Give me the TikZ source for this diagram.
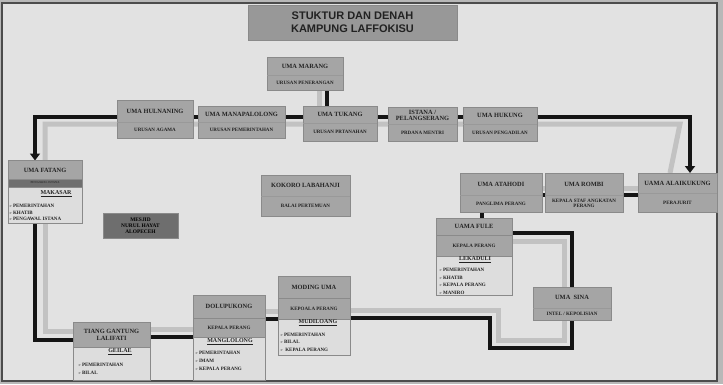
\documentclass[tikz,border=0pt]{standalone}
\usepackage{fontspec}
\setmainfont{Liberation Serif}
\newfontfamily\titlefont{Liberation Sans}
\newfontfamily\symfont{DejaVu Sans}
\usetikzlibrary{arrows.meta,backgrounds}
\definecolor{board}{HTML}{E2E2E2}
\definecolor{outer}{HTML}{B8B8B8}
\definecolor{boxg}{HTML}{A5A5A5}
\definecolor{boxd}{HTML}{6E6E6E}
\definecolor{paper}{HTML}{DDDDDD}
\definecolor{road}{HTML}{151515}
\definecolor{roadg}{HTML}{C2C2C2}
\definecolor{ink}{HTML}{222222}
\definecolor{edge}{HTML}{8A8A8A}
\tikzset{
  road/.style={draw=road,line width=4.5pt},
  roadlight/.style={draw=roadg,line width=5pt},
  panel/.style={draw=edge,line width=0.4pt,fill=boxg,inner sep=0pt,outer sep=0pt},
  panelw/.style={draw=edge,line width=0.4pt,fill=paper,inner sep=0pt,outer sep=0pt},
  divider/.style={draw=black!40,line width=0.4pt},
  toplbl/.style={font=\bfseries\fontsize{6.4}{6.8}\selectfont,text=ink,align=center,inner sep=0pt},
  sublbl/.style={font=\bfseries\fontsize{5}{5.4}\selectfont,text=ink,align=center,inner sep=0pt},
  headlbl/.style={font=\bfseries\fontsize{6}{6.4}\selectfont,text=ink,inner sep=0pt},
  listlbl/.style={font=\bfseries\fontsize{5}{5.4}\selectfont,text=ink,anchor=west,inner sep=0pt},
}
\newcommand\blt{{\symfont\fontsize{3.6}{4}\selectfont ➢}\,}
\newcommand\ubox[8]{%
  \node[panel,minimum width={(#4-#2)*1pt},minimum height={(#6-#3)*1pt}] (#1) at ({(#2+#4)/2},{(#3+#6)/2}) {};
  \draw[divider] (#2,#5) -- (#4,#5);
  \node[toplbl] (#1-t) at ({(#2+#4)/2},{(#3+#5)/2}) {#7};
  \node[sublbl] (#1-s) at ({(#2+#4)/2},{(#5+#6)/2}) {#8};
}
\begin{document}
\begin{tikzpicture}[x=1pt,y=-1pt]
\useasboundingbox (0,0) rectangle (723,384);
% ---------- title ----------
\node[panel,fill=boxg!92!black,minimum width=209pt,minimum height=35pt,
      font=\titlefont\bfseries\fontsize{11}{13}\selectfont,text=ink,align=center] (title) at (352.5,22.5)
      {STUKTUR DAN DENAH\\KAMPUNG LAFFOKISU};
% ---------- top row ----------
\ubox{marang}{267}{57}{343}{75}{90}{UMA MARANG}{URUSAN PENERANGAN}
\ubox{hulnaning}{117}{100}{193}{122}{138}{UMA HULNANING}{URUSAN AGAMA}
\ubox{manapalolong}{198}{106}{285}{122}{138}{UMA MANAPALOLONG}{URUSAN PEMERINTAHAN}
\ubox{tukang}{303}{106}{377}{123}{141}{UMA TUKANG}{URUSAN PRTANAHAN}
\ubox{istana}{388}{107}{457}{124}{141}{ISTANA /\\PELANGSERANG}{PRDANA MENTRI}
\ubox{hukung}{463}{107}{537}{124}{141}{UMA HUKUNG}{URUSAN PENGADILAN}
% ---------- middle ----------
\ubox{kokoro}{261}{175}{350}{196}{216}{KOKORO LABAHANJI}{BALAI PERTEMUAN}
\ubox{atahodi}{460}{173}{542}{195}{212}{UMA ATAHODI}{PANGLIMA PERANG}
\ubox{rombi}{545}{173}{623}{195}{212}{UMA ROMBI}{KEPALA STAF ANGKATAN\\PERANG}
\ubox{alaik}{638}{173}{717}{193}{212}{UAMA ALAIKUKUNG}{PERAJURIT}
\ubox{sina}{533}{287}{611}{308}{320}{UMA \ SINA}{INTEL / KEPOLISIAN}
\node[panel,fill=boxd,minimum width=75pt,minimum height=25pt,
      font=\bfseries\fontsize{5.4}{5.8}\selectfont,text=black,align=center] (mesjid) at (140.5,225.5)
      {MESJID\\NURUL HAYAT\\ALOPECEH};
% ---------- UMA FATANG ----------
\node[panelw,minimum width=74pt,minimum height=63pt] (fatang) at (45,192) {};
\path[panel] (8,160.5) rectangle (82,179);
\path[fill=boxd,draw=edge,line width=0.4pt] (8,179) rectangle (82,187);
\node[toplbl] (fatang-t) at (45,170) {UMA FATANG};
\node[font=\bfseries\fontsize{3}{3.4}\selectfont,text=black!80,inner sep=0pt] (fatang-s) at (45,183) {PENGAWAL ISTANA};
\node[headlbl] (fatang-h) at (56,193.5) {\underline{MAKASAR}};
\node[listlbl] (fatang-1) at (9,206) {\blt PEMERINTAHAN};
\node[listlbl] (fatang-2) at (9,212.5) {\blt KHATIB};
\node[listlbl] (fatang-3) at (9,219) {\blt PENGAWAL ISTANA};
% ---------- TIANG GANTUNG ----------
\node[panelw,minimum width=77pt,minimum height=58pt] (tiang) at (111.5,351) {};
\path[panel] (73,322) rectangle (150,347);
\node[toplbl] (tiang-t) at (111.5,334.5) {TIANG GANTUNG\\LALIFATI};
\node[headlbl] (tiang-h) at (120,352) {\underline{GEILAE}};
\node[listlbl] (tiang-1) at (78,364.5) {\blt PEMERINTAHAN};
\node[listlbl] (tiang-2) at (78,372.5) {\blt BILAL};
% ---------- DOLUPUKONG ----------
\node[panelw,minimum width=72pt,minimum height=85pt] (dolu) at (229,337.5) {};
\path[panel] (193,295) rectangle (265,318);
\path[panel] (193,318) rectangle (265,337);
\node[toplbl] (dolu-t) at (229,306.5) {DOLUPUKONG};
\node[sublbl] (dolu-s) at (229,327.5) {KEPALA PERANG};
\node[headlbl] (dolu-h) at (230,341.5) {\underline{MANGLOLONG}};
\node[listlbl] (dolu-1) at (195,352.5) {\blt PEMERINTAHAN};
\node[listlbl] (dolu-2) at (195,360.5) {\blt IMAM};
\node[listlbl] (dolu-3) at (195,368.5) {\blt KEPALA PERANG};
% ---------- MODING UMA ----------
\node[panelw,minimum width=72pt,minimum height=79pt] (moding) at (314,315.5) {};
\path[panel] (278,276) rectangle (350,298);
\path[panel] (278,298) rectangle (350,319);
\node[toplbl] (moding-t) at (314,287) {MODING UMA};
\node[sublbl] (moding-s) at (314,308.5) {KEPOALA PERANG};
\node[headlbl] (moding-h) at (318,323) {\underline{MUDILOANG}};
\node[listlbl] (moding-1) at (280,334.5) {\blt PEMERINTAHAN};
\node[listlbl] (moding-2) at (280,342) {\blt BILAL};
\node[listlbl] (moding-3) at (280,349.5) {\blt \ KEPALA PERANG};
% ---------- UAMA FULE ----------
\node[panelw,minimum width=76pt,minimum height=77pt] (fule) at (474,256.5) {};
\path[panel] (436,218) rectangle (512,235);
\path[panel] (436,235) rectangle (512,256);
\node[toplbl] (fule-t) at (474,226.5) {UAMA FULE};
\node[sublbl] (fule-s) at (474,245.5) {KEPALA PERANG};
\node[headlbl] (fule-h) at (475,260) {\underline{LEKADULI}};
\node[listlbl] (fule-1) at (439,270) {\blt PEMERINTAHAN};
\node[listlbl] (fule-2) at (439,277.5) {\blt KHATIB};
\node[listlbl] (fule-3) at (439,285) {\blt KEPALA PERANG};
\node[listlbl] (fule-4) at (439,292.5) {\blt MANIRO};
% ---------- board and roads (behind) ----------
\begin{scope}[on background layer]
  \fill[outer] (0,0) rectangle (723,384);
  \path[fill=board,draw=black!70,line width=1.2pt] (2,3) rectangle (717,381);
  % light road edges
  \draw[roadlight] ([xshift=0pt]fatang.north) -- (45,124) -- (680,124) -- ([xshift=-7.5pt]alaik.north);
  \draw[roadlight] ([xshift=14pt]marang.south) -- ([xshift=-21pt]tukang.north);
  \draw[roadlight] (fatang.south) -- (45,331) -- (tiang.west |- 0,331);
  \draw[roadlight] (tiang.east |- 0,329) -- (dolu.west |- 0,329);
  \draw[roadlight] (dolu.east |- 0,311) -- (moding.west |- 0,311);
  \draw[roadlight] (moding.east |- 0,310) -- (498,310) -- (498,340) -- (564,340) -- (564,241) -- (fule.east |- 0,241);
  \draw[roadlight] (atahodi.east |- 0,188) -- (rombi.west |- 0,188);
  \draw[roadlight] (rombi.east |- 0,188) -- (alaik.west |- 0,188);
  % black roads
  \draw[road,{Triangle[width=10pt,length=7pt]}-{Triangle[width=10pt,length=7pt]}]
       ([xshift=-10pt]fatang.north) -- (35,117) -- (690,117) -- ([xshift=12.5pt]alaik.north);
  \draw[road] ([xshift=22pt]marang.south) -- ([xshift=-13pt]tukang.north);
  \draw[road] ([xshift=-10pt]fatang.south) -- (35,340) -- (tiang.west |- 0,340);
  \draw[road] (tiang.east |- 0,337) -- (dolu.west |- 0,337);
  \draw[road] (dolu.east |- 0,319) -- (moding.west |- 0,319);
  \draw[road] (moding.east |- 0,318) -- (490,318) -- (490,348) -- (572,348) -- (572,233) -- (fule.east |- 0,233);
  \draw[road] ([xshift=-19pt]atahodi.south) -- ([xshift=8pt]fule.north);
  \draw[road] (atahodi.east |- 0,195) -- (rombi.west |- 0,195);
  \draw[road] (rombi.east |- 0,195) -- (alaik.west |- 0,195);
\end{scope}
\end{tikzpicture}
\end{document}
